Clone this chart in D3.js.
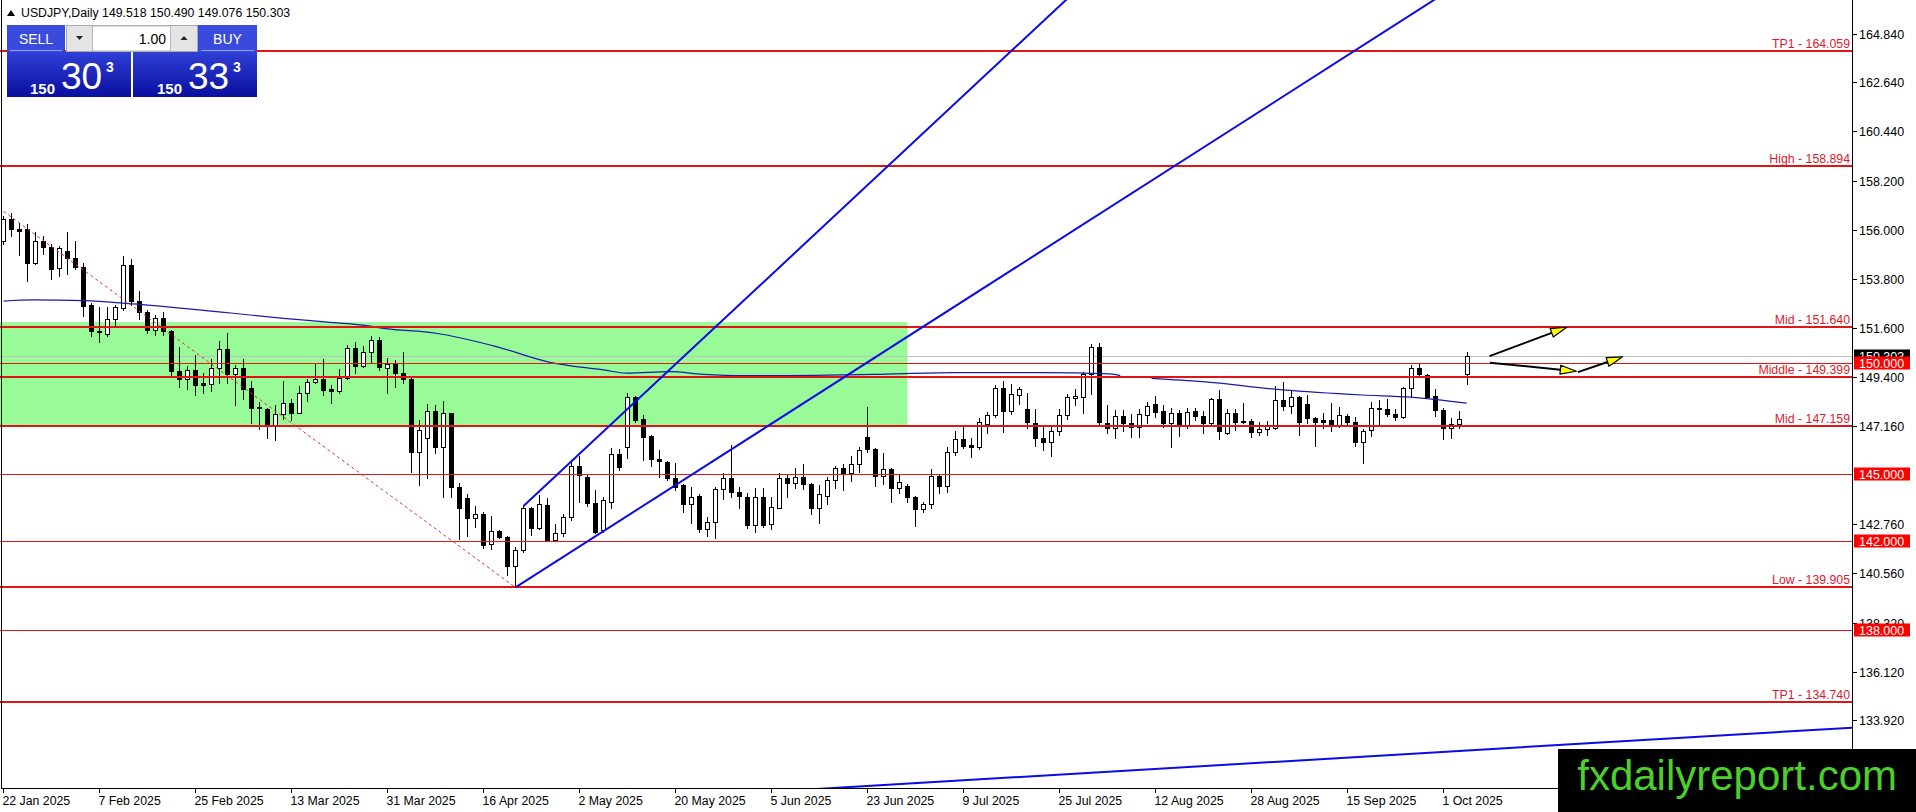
<!DOCTYPE html>
<html><head><meta charset="utf-8">
<script src="https://cdn.jsdelivr.net/npm/d3@7/dist/d3.min.js"></script>
<style>html,body{margin:0;padding:0;background:#fff;overflow:hidden}svg{display:block}</style>
</head><body>
<svg id="chart" width="1916" height="812"></svg>
<script>
// ---------------- DATA ----------------
const symbolTitle = "USDJPY,Daily";
const opens = [155.50,156.50,156.06,156.05,154.52,155.52,155.24,154.29,155.07,154.74,154.34,152.60,151.47,151.32,152.00,152.49,154.43,152.79,152.31,151.49,
152.04,151.44,149.64,149.30,149.69,149.10,149.07,149.79,150.65,149.52,149.79,148.89,148.05,147.92,147.24,147.72,148.22,147.77,148.67,149.16,
149.27,148.82,148.74,149.34,150.69,149.87,150.51,151.05,149.77,149.97,149.58,149.28,146.02,146.62,147.85,146.25,147.75,144.42,143.92,143.01,
143.22,141.85,142.45,142.17,140.85,141.57,143.47,142.60,143.62,142.02,142.35,143.07,145.38,144.87,143.70,142.47,143.77,145.92,146.22,148.47,
147.48,146.73,145.68,145.57,144.82,144.52,143.67,144.03,142.53,142.84,144.33,144.82,144.22,144.00,142.72,143.97,142.75,143.50,144.82,144.60,
144.87,144.57,143.47,144.03,144.75,145.27,145.08,145.45,146.67,146.13,144.93,145.23,144.37,144.48,144.00,143.43,143.67,144.93,144.48,146.02,
146.58,146.32,146.25,147.27,147.67,148.87,147.87,148.57,147.93,147.33,146.62,146.47,146.97,147.65,148.45,148.47,149.52,150.72,147.30,147.07,
147.63,147.33,147.12,147.67,148.15,147.85,147.33,147.75,147.22,147.85,147.64,147.30,148.38,146.88,147.75,147.40,147.40,146.92,147.03,147.07,
148.35,148.09,148.47,148.17,147.52,147.45,147.45,147.22,147.63,147.37,146.47,147.00,147.96,147.93,147.70,147.60,148.87,149.77,149.47,148.54,
147.90,147.07,147.25,149.518];
const highs = [156.62,156.77,156.32,156.29,155.91,155.72,155.35,155.27,155.93,155.52,154.49,152.72,152.54,152.54,152.64,154.82,154.71,153.24,152.39,152.19,
152.30,151.49,150.74,149.87,150.35,149.57,150.20,151.02,151.34,149.90,150.20,149.19,148.25,147.99,148.14,149.22,148.40,148.97,149.30,150.02,
150.17,149.00,149.72,150.80,150.95,150.77,151.22,151.20,150.22,150.15,150.49,149.32,147.45,148.15,148.12,148.30,147.78,144.63,144.12,143.58,
143.32,143.10,142.50,142.20,141.72,143.55,143.52,144.07,143.92,142.77,143.22,145.65,145.84,144.97,144.30,144.00,146.17,146.13,148.65,148.53,
147.67,146.77,146.10,145.62,145.50,144.57,144.42,144.12,143.07,144.45,145.08,146.32,144.45,144.15,144.37,144.37,143.97,145.08,144.97,145.27,
145.45,144.60,144.52,144.90,145.38,145.45,145.83,146.25,148.02,146.17,145.95,145.27,144.97,144.57,144.03,143.77,145.23,145.02,146.25,146.97,
147.12,146.62,147.52,147.82,149.02,149.20,149.07,148.92,148.65,147.93,147.12,147.15,147.93,148.62,148.83,149.62,150.87,150.90,148.12,147.90,
147.90,147.72,147.93,148.27,148.53,148.12,147.97,147.90,147.97,147.97,147.85,148.42,148.80,147.93,147.94,148.20,147.48,147.37,147.40,148.98,
149.17,148.80,148.53,148.57,147.60,147.75,148.20,148.05,147.72,147.57,147.03,148.27,148.35,148.38,147.93,148.95,149.92,150.00,149.52,148.83,
147.97,147.52,147.87,150.490];
const lows = [155.39,155.72,154.86,153.70,154.45,154.94,153.80,153.92,154.03,154.22,152.12,151.22,150.95,151.22,151.70,152.39,152.64,152.00,151.34,151.26,
151.25,149.45,148.94,148.85,148.59,148.67,148.74,149.12,149.09,148.14,148.37,147.32,147.02,146.64,146.54,147.47,147.44,147.74,148.29,149.12,
148.55,148.22,148.64,149.30,149.57,149.84,150.05,149.70,148.68,148.95,149.10,145.12,144.52,144.82,145.98,144.00,144.00,142.08,142.23,142.62,
141.67,141.63,142.12,140.47,139.905,141.48,142.27,142.53,142.00,142.00,142.20,142.95,143.73,143.55,142.35,142.42,143.47,145.20,145.72,147.37,
145.65,145.38,144.90,144.75,144.30,143.28,142.80,142.42,142.23,142.12,143.88,143.97,143.47,142.57,142.39,142.62,142.53,143.47,143.97,144.37,
144.33,143.20,142.80,143.65,144.37,144.30,144.72,145.12,146.02,144.49,144.57,143.73,144.18,143.77,142.69,143.32,143.47,144.18,144.22,145.87,
146.17,145.77,146.13,146.85,147.57,146.92,147.72,148.17,147.07,146.28,146.10,145.84,146.77,147.50,148.12,147.78,148.62,147.27,146.85,146.62,
146.97,146.70,146.70,147.30,147.57,147.12,146.22,146.73,147.07,147.45,146.88,147.22,146.58,146.82,147.00,147.30,146.67,146.75,146.78,147.03,
147.90,147.78,146.78,147.33,146.29,147.07,146.97,147.12,147.22,146.28,145.50,146.73,147.22,147.63,147.45,147.52,148.50,149.43,148.42,147.63,
146.58,146.62,147.07,149.076];
const closes = [156.50,156.05,155.96,154.52,155.52,155.24,154.26,155.20,154.74,154.34,152.57,151.44,151.41,152.00,152.52,154.43,152.79,152.31,151.49,152.04,
151.44,149.64,149.30,149.69,149.01,149.04,149.79,150.65,149.52,149.79,148.85,147.99,147.99,147.24,147.72,148.22,147.77,148.67,149.16,149.27,
148.79,148.76,149.34,150.69,149.87,150.51,151.04,149.85,149.97,149.55,149.28,146.02,147.00,147.85,146.25,147.75,144.42,143.50,143.01,143.20,
141.82,142.45,142.17,140.85,141.60,143.47,142.60,143.65,142.02,142.35,143.07,145.38,144.97,143.70,142.42,143.82,145.92,145.35,148.47,147.45,
146.70,145.68,145.62,144.82,144.45,143.67,144.00,142.53,142.84,144.33,144.82,144.19,144.04,142.72,143.97,142.72,143.52,144.82,144.60,144.87,
144.57,143.47,144.10,144.75,145.27,145.08,145.45,146.10,146.13,144.93,145.23,144.37,144.64,144.00,143.43,143.67,144.93,144.49,146.02,146.58,
146.28,146.23,147.37,147.67,148.87,147.87,148.60,148.83,147.34,146.62,146.47,146.97,147.65,148.50,148.53,149.52,150.72,147.37,147.07,147.63,
147.33,147.12,147.70,148.09,147.82,147.33,147.75,147.22,147.82,147.64,147.30,148.38,146.95,147.75,147.37,147.36,146.92,147.03,147.18,148.35,
148.08,148.47,147.37,147.52,147.37,147.37,147.22,147.66,147.37,146.44,146.97,147.97,147.99,147.70,147.60,148.87,149.77,149.50,148.50,147.90,
147.07,147.25,147.48,150.303];

const dateTickBars = [0,12,24,36,48,60,72,84,96,108,120,132,144,156,168,180];
const dateTickLabels = ["22 Jan 2025","7 Feb 2025","25 Feb 2025","13 Mar 2025","31 Mar 2025","16 Apr 2025","2 May 2025","20 May 2025",
  "5 Jun 2025","23 Jun 2025","9 Jul 2025","25 Jul 2025","12 Aug 2025","28 Aug 2025","15 Sep 2025","1 Oct 2025"];
const priceTicks = [164.84,162.64,160.44,158.20,156.00,153.80,151.60,149.40,147.16,142.76,140.56,138.32,136.12,133.92];

const levelPrices = [164.059,158.894,151.640,149.399,147.159,139.905,134.740];
const levelNames  = ["TP1","High","Mid","Middle","Mid","Low","TP1"];
const roundPrices = [150.000,145.000,142.000,138.000];
const bidPrice = 150.303;
const askPrice = 150.333;
const lotSize = "1.00";

// moving average samples [bar, value]; NaN = gap
const maBars = [0,3.7,10,16.2,22.5,28.7,35,41.2,45.4,47.5,54.1,61.6,68.3,75,77.9,83.3,87.5,92.5,108.7,118.7,129.6,138.3,139.6,141.5,143.5,149.9,159.9,169.9,175.9,182.9];
const maVals = [152.80,152.85,152.82,152.67,152.47,152.25,152.02,151.83,151.69,151.57,151.35,150.75,150.04,149.70,149.55,149.62,149.50,149.44,149.50,149.58,149.58,149.52,149.44,NaN,149.32,149.17,148.80,148.57,148.47,148.20];

// demand/supply zone
const zoneBars = [-5,113];
const zonePrices = [151.85,147.20];

// trend lines: [bar, price] anchors
const dashBars = [0,64],     dashPrices = [156.84,139.905];
const rayLowBars = [64,104], rayLowPrices = [139.905,149.12];
const raySteepBars = [65,90], raySteepPrices = [143.57,151.97];
const baseLineBars = [110,230], baseLinePrices = [131.01,133.57];

// projection arrows: from [bar, price] to [bar, price]
const arrowFromBars = [185.75,185.8,196.8], arrowFromPrices = [150.32,150.02,149.60];
const arrowToBars   = [195.4,196.6,202.4],  arrowToPrices   = [151.62,149.64,150.29];

// ---------------- DRAW ----------------
const W = 1916, H = 812, plotR = 1852, plotB = 788;
const FONT = "'Liberation Sans', Arial, sans-serif";
const RED = "#e31414", LBL = "#e0182c", BLUE = "#0b0be6";
const svg = d3.select("#chart");
const x = d3.scaleLinear().domain([0,1]).range([3.5,11.5]);
const y = d3.scaleLinear().domain([164.84,133.92]).range([33.6,720.4]);
const defs = svg.append("defs");
defs.append("clipPath").attr("id","plot").append("rect").attr("x",0).attr("y",0).attr("width",plotR).attr("height",plotB);
const g = svg.append("g").attr("clip-path","url(#plot)");
const px = v => Math.round(v)+0.5;

// zone
g.append("rect").attr("x",x(zoneBars[0])).attr("y",y(zonePrices[0]))
  .attr("width",x(zoneBars[1])-x(zoneBars[0])).attr("height",y(zonePrices[1])-y(zonePrices[0]))
  .attr("fill","#98fb98");

// bid line
g.append("line").attr("x1",0).attr("x2",plotR).attr("y1",px(y(bidPrice))).attr("y2",px(y(bidPrice)))
  .attr("stroke","#c0c0c0").attr("stroke-width",1);

// candles
const bars = opens.map((o,i)=>({i,o,h:highs[i],l:lows[i],c:closes[i]}));
const cg = g.append("g");
bars.forEach(b=>{
  const cx = x(b.i);
  cg.append("line").attr("x1",cx).attr("x2",cx).attr("y1",Math.round(y(b.h))).attr("y2",Math.round(y(b.l))+1)
    .attr("stroke","#000").attr("stroke-width",1);
  const top = Math.round(y(Math.max(b.o,b.c))), bot = Math.round(y(Math.min(b.o,b.c)));
  const up = b.c >= b.o;
  if (bot - top < 1) {
    cg.append("line").attr("x1",cx-2.5).attr("x2",cx+2.5).attr("y1",top+0.5).attr("y2",top+0.5).attr("stroke","#000");
  } else {
    cg.append("rect").attr("x",cx-2).attr("y",top+0.5).attr("width",4).attr("height",bot-top)
      .attr("fill",up?"#fff":"#000").attr("stroke","#000").attr("stroke-width",1);
  }
});

// moving average
const maPts = maBars.map((b,i)=>[b,maVals[i]]);
g.append("path").datum(maPts)
  .attr("d",d3.line().defined(d=>!isNaN(d[1])).x(d=>x(d[0])).y(d=>y(d[1])).curve(d3.curveMonotoneX))
  .attr("fill","none").attr("stroke","#1a1aa8").attr("stroke-width",1.2);

// level lines
levelPrices.forEach((p,i)=>{
  g.append("line").attr("x1",0).attr("x2",plotR).attr("y1",Math.round(y(p))).attr("y2",Math.round(y(p)))
    .attr("stroke",RED).attr("stroke-width",2);
});
roundPrices.forEach(p=>{
  g.append("line").attr("x1",0).attr("x2",plotR).attr("y1",px(y(p))).attr("y2",px(y(p)))
    .attr("stroke",RED).attr("stroke-width",1);
});

// trend lines
function extend(bs, ps, b0, b1){
  const k = (ps[1]-ps[0])/(bs[1]-bs[0]);
  return [[b0, ps[0]+k*(b0-bs[0])],[b1, ps[0]+k*(b1-bs[0])]];
}
const lineGen = d3.line().x(d=>x(d[0])).y(d=>y(d[1]));
g.append("path").datum([[dashBars[0],dashPrices[0]],[dashBars[1],dashPrices[1]]]).attr("d",lineGen)
  .attr("fill","none").attr("stroke","#e03030").attr("stroke-width",1).attr("stroke-dasharray","3,3");
[[rayLowBars,rayLowPrices,rayLowBars[0],400],[raySteepBars,raySteepPrices,raySteepBars[0],400],[baseLineBars,baseLinePrices,0,400]]
  .forEach(([bs,ps,b0,b1])=>{
    g.append("path").datum(extend(bs,ps,b0,b1)).attr("d",lineGen)
      .attr("fill","none").attr("stroke",BLUE).attr("stroke-width",2);
  });

// arrows
arrowFromBars.forEach((b,i)=>{
  const x0 = x(b), y0 = y(arrowFromPrices[i]), x1 = x(arrowToBars[i]), y1 = y(arrowToPrices[i]);
  const ang = Math.atan2(y1-y0, x1-x0), L = 16, hw = 4.5;
  const bx = x1 - L*Math.cos(ang), by = y1 - L*Math.sin(ang);
  g.append("line").attr("x1",x0).attr("y1",y0).attr("x2",bx).attr("y2",by).attr("stroke","#000").attr("stroke-width",2);
  const nx = -Math.sin(ang)*hw, ny = Math.cos(ang)*hw;
  g.append("path").attr("d",`M${x1},${y1}L${bx+nx},${by+ny}L${bx-nx},${by-ny}Z`)
    .attr("fill","#ffff00").attr("stroke","#000").attr("stroke-width",1.2).attr("stroke-linejoin","round");
});

// level labels
levelPrices.forEach((p,i)=>{
  svg.append("text").attr("x",1850).attr("y",Math.round(y(p))-3).attr("text-anchor","end")
    .attr("font-family",FONT).attr("font-size","12.3px").attr("fill",LBL)
    .text(`${levelNames[i]} - ${p.toFixed(3)}`);
});

// frame
svg.append("line").attr("x1",1.5).attr("x2",1.5).attr("y1",0).attr("y2",plotB).attr("stroke","#000");
svg.append("line").attr("x1",plotR+0.5).attr("x2",plotR+0.5).attr("y1",0).attr("y2",plotB).attr("stroke","#000");
svg.append("line").attr("x1",1).attr("x2",plotR+1).attr("y1",plotB+0.5).attr("y2",plotB+0.5).attr("stroke","#000");

// price axis
priceTicks.forEach(p=>{
  const yy = px(y(p));
  svg.append("line").attr("x1",plotR+1).attr("x2",plotR+5).attr("y1",yy).attr("y2",yy).attr("stroke","#000");
  svg.append("text").attr("x",1859).attr("y",yy+4.5).attr("font-family",FONT).attr("font-size","12.5px").attr("fill","#000").text(p.toFixed(3));
});
function axisBox(p, fill){
  const yy = y(p);
  svg.append("rect").attr("x",1854).attr("y",Math.round(yy)-6.5).attr("width",56).attr("height",13).attr("fill",fill);
  svg.append("text").attr("x",1859).attr("y",Math.round(yy)+4.5).attr("font-family",FONT).attr("font-size","12.5px").attr("fill","#fff").text(p.toFixed(3));
}
axisBox(bidPrice,"#000");
roundPrices.forEach(p=>axisBox(p,"#ff0000"));

// time axis
dateTickBars.forEach((b,i)=>{
  const xx = x(b);
  svg.append("line").attr("x1",xx).attr("x2",xx).attr("y1",plotB+1).attr("y2",plotB+5).attr("stroke","#000");
  svg.append("text").attr("x",xx-1).attr("y",plotB+16.5).attr("font-family",FONT).attr("font-size","12.3px").attr("fill","#000").text(dateTickLabels[i]);
});

// header
svg.append("path").attr("d","M7,16L11,10L15,16Z").attr("fill","#000");
svg.append("text").attr("x",21).attr("y",17).attr("font-family",FONT).attr("font-size","12.3px").attr("fill","#000")
  .text(`${symbolTitle}  ${opens[opens.length-1].toFixed(3)} ${highs[highs.length-1].toFixed(3)} ${lows[lows.length-1].toFixed(3)} ${closes[closes.length-1].toFixed(3)}`);

// one-click trading panel
const grad = defs.append("linearGradient").attr("id","pbox").attr("x1",0).attr("y1",0).attr("x2",0).attr("y2",1);
grad.append("stop").attr("offset","0%").attr("stop-color","#2f3fd6");
grad.append("stop").attr("offset","100%").attr("stop-color","#0a0f9e");
const P = svg.append("g");
P.append("rect").attr("x",7).attr("y",25).attr("width",58).attr("height",27).attr("fill","#3a4adc");
P.append("rect").attr("x",198).attr("y",25).attr("width",59).attr("height",27).attr("fill","#3a4adc");
P.append("line").attr("x1",10).attr("x2",62).attr("y1",50.5).attr("y2",50.5).attr("stroke","#8f9af0");
P.append("line").attr("x1",201).attr("x2",254).attr("y1",50.5).attr("y2",50.5).attr("stroke","#8f9af0");
P.append("text").attr("x",36).attr("y",44).attr("text-anchor","middle").attr("font-family",FONT).attr("font-size","14px").attr("fill","#fff").text("SELL");
P.append("text").attr("x",227.5).attr("y",44).attr("text-anchor","middle").attr("font-family",FONT).attr("font-size","14px").attr("fill","#fff").text("BUY");
P.append("rect").attr("x",66.5).attr("y",25.5).attr("width",131).attr("height",26).attr("fill","#e4e4e4").attr("stroke","#a8a8a8");
P.append("rect").attr("x",92.5).attr("y",26).attr("width",78).attr("height",25).attr("fill","#fff").attr("stroke","#b8b8b8");
P.append("path").attr("d","M76,36L83,36L79.5,40Z").attr("fill","#222");
P.append("path").attr("d","M180.5,40L187.5,40L184,36Z").attr("fill","#222");
P.append("text").attr("x",166).attr("y",43.5).attr("text-anchor","end").attr("font-family",FONT).attr("font-size","14px").attr("fill","#000").text(lotSize);
P.append("rect").attr("x",7).attr("y",52).attr("width",124).attr("height",45).attr("fill","url(#pbox)");
P.append("rect").attr("x",133).attr("y",52).attr("width",124).attr("height",45).attr("fill","url(#pbox)");
function priceTxt(val, x0){
  const s = val.toFixed(3);
  const big = s.slice(0,3), mid = s.slice(4,6), sup = s.slice(6);
  P.append("text").attr("x",x0).attr("y",94).attr("font-family",FONT).attr("font-size","15px").attr("font-weight","bold").attr("fill","#fff").text(big);
  P.append("text").attr("x",x0+31).attr("y",88.5).attr("font-family",FONT).attr("font-size","37px").attr("fill","#fff").text(mid);
  P.append("text").attr("x",x0+76).attr("y",71.5).attr("font-family",FONT).attr("font-size","14px").attr("font-weight","bold").attr("fill","#fff").text(sup);
}
priceTxt(bidPrice, 30);
priceTxt(askPrice, 157);

// watermark
svg.append("rect").attr("x",1558).attr("y",749).attr("width",358).attr("height",63).attr("fill","#000");
svg.append("text").attr("x",1897).attr("y",790).attr("text-anchor","end").attr("font-family",FONT).attr("font-size","42px").attr("fill","#4ccf2a").text("fxdailyreport.com");
</script>
</body></html>
